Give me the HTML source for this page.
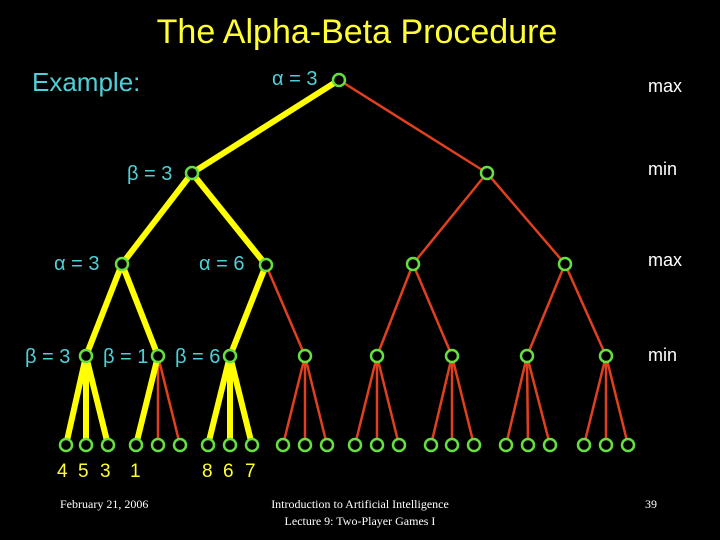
<!DOCTYPE html>
<html><head><style>body{margin:0;background:#000}svg{display:block}</style></head><body>
<svg width="720" height="540" xmlns="http://www.w3.org/2000/svg" font-family="Liberation Sans, sans-serif">
<rect width="720" height="540" fill="#000"/>
<text x="357" y="43" fill="#ffff33" font-size="34" text-anchor="middle">The Alpha-Beta Procedure</text>
<text x="32" y="91" fill="#4fd0d8" font-size="26">Example:</text>
<g fill="#fff" font-size="18"><text x="648" y="92">max</text><text x="648" y="175">min</text><text x="648" y="266">max</text><text x="648" y="361">min</text></g>
<g fill="#4fd0d8" font-size="20">
<text x="272" y="85">α = 3</text><text x="127" y="180">β = 3</text><text x="54" y="270">α = 3</text><text x="199" y="270">α = 6</text>
<text x="25" y="363">β = 3</text><text x="103" y="363">β = 1</text><text x="175" y="363">β = 6</text></g>
<g fill="#ffff33" font-size="19"><text x="57" y="477">4</text><text x="78" y="477">5</text><text x="100" y="477">3</text><text x="130" y="477">1</text><text x="202" y="477">8</text><text x="223" y="477">6</text><text x="245" y="477">7</text></g>
<g fill="#fff" font-family="Liberation Serif, serif" font-size="12"><text x="60" y="508">February 21, 2006</text><text x="360" y="508" text-anchor="middle">Introduction to Artificial Intelligence</text><text x="360" y="525" text-anchor="middle">Lecture 9: Two-Player Games I</text><text x="645" y="508">39</text></g>
<g stroke="#e04020" stroke-width="2.5">
<line x1="339" y1="80" x2="487" y2="173"/>
<line x1="487" y1="173" x2="413" y2="264"/><line x1="487" y1="173" x2="565" y2="264"/>
<line x1="266" y1="265" x2="305" y2="356"/><line x1="413" y1="264" x2="377" y2="356"/><line x1="413" y1="264" x2="452" y2="356"/>
<line x1="565" y1="264" x2="527" y2="356"/><line x1="565" y1="264" x2="606" y2="356"/>
<line x1="158" y1="356" x2="158" y2="445"/><line x1="158" y1="356" x2="180" y2="445"/>
<line x1="305" y1="356" x2="283" y2="445"/><line x1="305" y1="356" x2="305" y2="445"/><line x1="305" y1="356" x2="327" y2="445"/>
<line x1="377" y1="356" x2="355" y2="445"/><line x1="377" y1="356" x2="377" y2="445"/><line x1="377" y1="356" x2="399" y2="445"/>
<line x1="452" y1="356" x2="431" y2="445"/><line x1="452" y1="356" x2="452" y2="445"/><line x1="452" y1="356" x2="474" y2="445"/>
<line x1="527" y1="356" x2="506" y2="445"/><line x1="527" y1="356" x2="528" y2="445"/><line x1="527" y1="356" x2="550" y2="445"/>
<line x1="606" y1="356" x2="584" y2="445"/><line x1="606" y1="356" x2="606" y2="445"/><line x1="606" y1="356" x2="628" y2="445"/>
</g>
<g stroke="#ffff00" stroke-width="6">
<line x1="339" y1="80" x2="192" y2="173"/>
<line x1="192" y1="173" x2="122" y2="264"/><line x1="192" y1="173" x2="266" y2="265"/>
<line x1="122" y1="264" x2="86" y2="356"/><line x1="122" y1="264" x2="158" y2="356"/><line x1="266" y1="265" x2="230" y2="356"/>
<line x1="86" y1="356" x2="66" y2="445"/><line x1="86" y1="356" x2="86" y2="445"/><line x1="86" y1="356" x2="108" y2="445"/>
<line x1="158" y1="356" x2="136" y2="445"/>
<line x1="230" y1="356" x2="208" y2="445"/><line x1="230" y1="356" x2="230" y2="445"/><line x1="230" y1="356" x2="252" y2="445"/>
</g>
<g fill="#000" stroke="#66e040" stroke-width="2.5">
<circle cx="339" cy="80" r="6"/><circle cx="192" cy="173" r="6"/><circle cx="487" cy="173" r="6"/>
<circle cx="122" cy="264" r="6"/><circle cx="266" cy="265" r="6"/><circle cx="413" cy="264" r="6"/><circle cx="565" cy="264" r="6"/>
<circle cx="86" cy="356" r="6"/><circle cx="158" cy="356" r="6"/><circle cx="230" cy="356" r="6"/><circle cx="305" cy="356" r="6"/><circle cx="377" cy="356" r="6"/><circle cx="452" cy="356" r="6"/><circle cx="527" cy="356" r="6"/><circle cx="606" cy="356" r="6"/>
<circle cx="66" cy="445" r="6"/><circle cx="86" cy="445" r="6"/><circle cx="108" cy="445" r="6"/>
<circle cx="136" cy="445" r="6"/><circle cx="158" cy="445" r="6"/><circle cx="180" cy="445" r="6"/>
<circle cx="208" cy="445" r="6"/><circle cx="230" cy="445" r="6"/><circle cx="252" cy="445" r="6"/>
<circle cx="283" cy="445" r="6"/><circle cx="305" cy="445" r="6"/><circle cx="327" cy="445" r="6"/>
<circle cx="355" cy="445" r="6"/><circle cx="377" cy="445" r="6"/><circle cx="399" cy="445" r="6"/>
<circle cx="431" cy="445" r="6"/><circle cx="452" cy="445" r="6"/><circle cx="474" cy="445" r="6"/>
<circle cx="506" cy="445" r="6"/><circle cx="528" cy="445" r="6"/><circle cx="550" cy="445" r="6"/>
<circle cx="584" cy="445" r="6"/><circle cx="606" cy="445" r="6"/><circle cx="628" cy="445" r="6"/>
</g>
</svg>
</body></html>
